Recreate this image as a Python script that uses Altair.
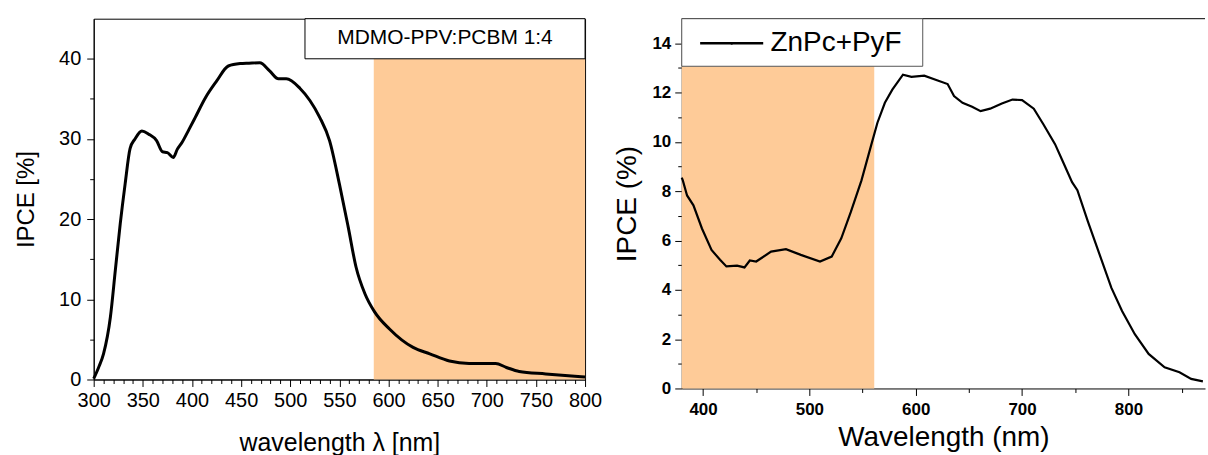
import altair as alt
import pandas as pd

# ---------------- data ----------------
# Left panel: MDMO-PPV:PCBM 1:4
wl_a = [300, 305, 310, 317, 322, 327, 332, 337, 342, 349, 356, 364, 370, 375,
        381, 385, 390, 397, 403, 414, 425, 437, 449, 458, 469, 479, 488, 496,
        510, 520, 530, 540, 550, 559, 567, 576, 586, 601, 625, 642, 662, 682,
        709, 720, 733, 760, 800]
ipce_a = [0.1, 1.5, 3.2, 7.8, 13.6, 19.4, 24.4, 28.8, 30.0, 31.0, 30.6, 29.8,
          28.4, 28.3, 27.7, 28.7, 29.6, 31.2, 32.6, 35.2, 37.2, 39.1, 39.4,
          39.45, 39.5, 38.5, 37.5, 37.5, 36.3, 34.8, 32.7, 29.8, 24.4, 19.0,
          14.0, 10.7, 8.4, 6.3, 4.0, 3.2, 2.3, 2.0, 2.0, 1.5, 1.0, 0.7, 0.3]

# Right panel: ZnPc+PyF
wl_b = [380, 381, 385, 391, 399, 408, 416, 422, 432, 439, 444, 450, 464, 478,
        492, 510, 521, 530, 539, 549, 558, 564, 571, 578, 588, 596, 608, 620,
        630, 636, 644, 653, 661, 670, 681, 691, 700, 711, 720, 731, 738, 747,
        752, 762, 773, 784, 794, 806, 819, 834, 848, 859, 870]
ipce_b = [8.55, 8.44, 7.83, 7.43, 6.49, 5.62, 5.22, 4.95, 4.98, 4.91, 5.19,
          5.15, 5.55, 5.65, 5.42, 5.15, 5.35, 6.09, 7.16, 8.44, 9.85, 10.78,
          11.59, 12.12, 12.73, 12.64, 12.69, 12.5, 12.35, 11.86, 11.59, 11.43,
          11.25, 11.35, 11.56, 11.72, 11.70, 11.35, 10.72, 9.91, 9.24, 8.37,
          8.04, 6.76, 5.42, 4.08, 3.14, 2.20, 1.40, 0.86, 0.66, 0.39, 0.29]

label_a = "MDMO-PPV:PCBM 1:4"
label_b = "ZnPc+PyF"

# tick values
x_ticks_a = list(range(300, 801, 10))
y_ticks_a = list(range(0, 41, 5))
x_ticks_b = list(range(400, 851, 50))
y_ticks_b = list(range(0, 15, 1))

# shaded spectral windows  [wl_from, wl_to, ipce_from, ipce_to]
shade_a = [585, 800, 0, 40]
shade_b = [380, 561, 0, 13.07]

# ---------------- styling ----------------
FONT = "Liberation Sans"
SHADE = "#FECB98"
X_DOM_A, Y_DOM_A = [300, 800], [0, 45]
X_DOM_B, Y_DOM_B = [380, 872], [0, 15]


def cond(test, major, minor):
    return {"condition": {"test": test, "value": major}, "value": minor}


axis_common = dict(grid=False, labelOverlap=False, labelFlush=False,
                   tickColor="black", domainColor="black", labelColor="black",
                   titleColor="black", labelFont=FONT, titleFont=FONT,
                   titleFontWeight="normal", tickWidth=1, domainWidth=1)

ax_xa = alt.Axis(values=x_ticks_a, title="wavelength λ [nm]",
                 labelExpr="datum.value % 50 === 0 ? datum.label : ''",
                 tickSize=cond("datum.value % 50 === 0", 7, 4),
                 labelFontSize=20, labelPadding=4, titleFontSize=25,
                 titlePadding=20, **axis_common)
ax_ya = alt.Axis(values=y_ticks_a, title="IPCE [%]",
                 labelExpr="datum.value % 10 === 0 ? datum.label : ''",
                 tickSize=cond("datum.value % 10 === 0", 7, 4),
                 labelFontSize=20, labelPadding=6, titleFontSize=24,
                 titlePadding=20, **axis_common)
ax_xb = alt.Axis(values=x_ticks_b, title="Wavelength (nm)",
                 labelExpr="datum.value % 100 === 0 ? datum.label : ''",
                 tickSize=cond("datum.value % 100 === 0", 7, 4),
                 labelFontSize=17, labelFontWeight="bold", labelPadding=6,
                 titleFontSize=28, titlePadding=6, **axis_common)
ax_yb = alt.Axis(values=y_ticks_b, title="IPCE (%)",
                 labelExpr="datum.value % 2 === 0 ? datum.label : ''",
                 tickSize=cond("datum.value % 2 === 0", 7, 4),
                 labelFontSize=17, labelFontWeight="bold", labelPadding=4,
                 titleFontSize=28, titlePadding=10, **axis_common)


def X(dom, ax):
    return alt.X("wl:Q", scale=alt.Scale(domain=dom, nice=False, zero=False), axis=ax)


def Y(dom, ax):
    return alt.Y("ipce:Q", scale=alt.Scale(domain=dom, nice=False, zero=False), axis=ax)


# ---------------- left panel ----------------
df_a = pd.DataFrame({"wl": wl_a, "ipce": ipce_a})
sh_a = pd.DataFrame({"wl": [shade_a[0]], "wl2": [shade_a[1]],
                     "ipce": [shade_a[2]], "ipce2": [shade_a[3]]})
leg_a = pd.DataFrame({"wl": [515], "wl2": [800], "ipce": [40], "ipce2": [45]})
legt_a = pd.DataFrame({"wl": [657.5], "ipce": [42.55], "t": [label_a]})

l_shade = alt.Chart(sh_a).mark_rect(color=SHADE).encode(
    x=X(X_DOM_A, ax_xa), x2="wl2", y=Y(Y_DOM_A, ax_ya), y2="ipce2")
l_line = alt.Chart(df_a).mark_line(color="black", strokeWidth=3,
                                   interpolate="monotone").encode(
    x=X(X_DOM_A, ax_xa), y=Y(Y_DOM_A, ax_ya))
l_box = alt.Chart(leg_a).mark_rect(fill="white", stroke="black", strokeWidth=1).encode(
    x=X(X_DOM_A, ax_xa), x2="wl2", y=Y(Y_DOM_A, ax_ya), y2="ipce2")
l_text = alt.Chart(legt_a).mark_text(font=FONT, fontSize=21, color="black",
                                     baseline="middle", align="center").encode(
    x=X(X_DOM_A, ax_xa), y=Y(Y_DOM_A, ax_ya), text="t:N")

left = alt.layer(l_shade, l_line, l_box, l_text).properties(
    width=493, height=362,
    view=alt.ViewBackground(stroke="black", strokeWidth=1))

# ---------------- right panel ----------------
df_b = pd.DataFrame({"wl": wl_b, "ipce": ipce_b})
sh_b = pd.DataFrame({"wl": [shade_b[0]], "wl2": [shade_b[1]],
                     "ipce": [shade_b[2]], "ipce2": [shade_b[3]]})
top_b = pd.DataFrame({"wl": [X_DOM_B[0]], "wl2": [X_DOM_B[1]], "ipce": [Y_DOM_B[1]]})
leg_b = pd.DataFrame({"wl": [380], "wl2": [606.6], "ipce": [13.07], "ipce2": [15]})
legl_b = pd.DataFrame({"wl": [397.3], "wl2": [456.6], "ipce": [14.0]})
legp_b = pd.DataFrame({"wl": [427], "ipce": [14.0]})
legt_b = pd.DataFrame({"wl": [463.5], "ipce": [14.0], "t": [label_b]})

r_shade = alt.Chart(sh_b).mark_rect(color=SHADE).encode(
    x=X(X_DOM_B, ax_xb), x2="wl2", y=Y(Y_DOM_B, ax_yb), y2="ipce2")
r_line = alt.Chart(df_b).mark_line(color="black", strokeWidth=2.2).encode(
    x=X(X_DOM_B, ax_xb), y=Y(Y_DOM_B, ax_yb))
r_top = alt.Chart(top_b).mark_rule(color="black", strokeWidth=1).encode(
    x=X(X_DOM_B, ax_xb), x2="wl2", y=Y(Y_DOM_B, ax_yb))
r_box = alt.Chart(leg_b).mark_rect(fill="white", stroke="#555555", strokeWidth=1).encode(
    x=X(X_DOM_B, ax_xb), x2="wl2", y=Y(Y_DOM_B, ax_yb), y2="ipce2")
r_sym = alt.Chart(legl_b).mark_rule(color="black", strokeWidth=2.5).encode(
    x=X(X_DOM_B, ax_xb), x2="wl2", y=Y(Y_DOM_B, ax_yb))
r_dot = alt.Chart(legp_b).mark_point(color="black", filled=True, size=8, opacity=1).encode(
    x=X(X_DOM_B, ax_xb), y=Y(Y_DOM_B, ax_yb))
r_text = alt.Chart(legt_b).mark_text(font=FONT, fontSize=28, color="black",
                                     baseline="middle", align="left").encode(
    x=X(X_DOM_B, ax_xb), y=Y(Y_DOM_B, ax_yb), text="t:N")

right = alt.layer(r_shade, r_line, r_top, r_box, r_sym, r_dot, r_text).properties(
    width=525, height=371,
    view=alt.ViewBackground(stroke=None, strokeWidth=0))

chart = alt.hconcat(left, right, spacing=97, bounds="flush").properties(
    padding={"left": 14, "top": 17, "right": 0, "bottom": 0},
    background="white",
).configure_view(stroke=None)

chart.save("out.html", embed_options={"renderer": "svg", "actions": False})
